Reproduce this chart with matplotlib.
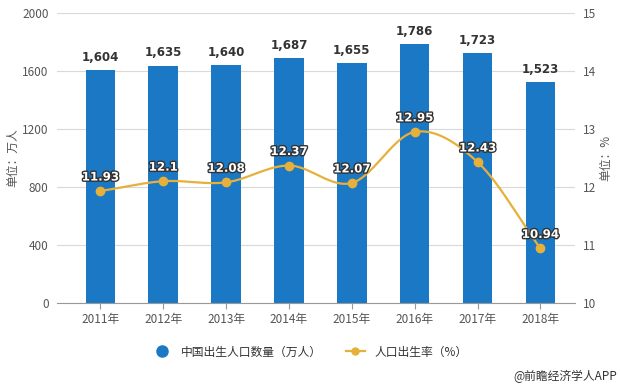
import numpy as np
import matplotlib
matplotlib.use("Agg")
import matplotlib.pyplot as plt
import matplotlib.patheffects as pe
from matplotlib.lines import Line2D

plt.rcParams['font.family'] = ['Noto Sans CJK SC', 'DejaVu Sans']

years = ["2011年", "2012年", "2013年", "2014年", "2015年", "2016年", "2017年", "2018年"]
births = [1604, 1635, 1640, 1687, 1655, 1786, 1723, 1523]
rates = [11.93, 12.1, 12.08, 12.37, 12.07, 12.95, 12.43, 10.94]
rate_labels = ["11.93", "12.1", "12.08", "12.37", "12.07", "12.95", "12.43", "10.94"]

BLUE = "#1a78c4"
GOLD = "#e6b03a"
GRAY = "#555555"


def catmull_rom(x, y, n=30):
    x = np.asarray(x, float)
    y = np.asarray(y, float)
    px = np.concatenate([[2 * x[0] - x[1]], x, [2 * x[-1] - x[-2]]])
    py = np.concatenate([[2 * y[0] - y[1]], y, [2 * y[-1] - y[-2]]])
    xs, ys = [], []
    t = np.linspace(0, 1, n)
    for i in range(1, len(px) - 2):
        for p, out in ((px, xs), (py, ys)):
            p0, p1, p2, p3 = p[i - 1], p[i], p[i + 1], p[i + 2]
            out.append(0.5 * (2 * p1 + (-p0 + p2) * t
                              + (2 * p0 - 5 * p1 + 4 * p2 - p3) * t ** 2
                              + (-p0 + 3 * p1 - 3 * p2 + p3) * t ** 3))
    return np.concatenate(xs), np.concatenate(ys)


fig = plt.figure(figsize=(6.2, 3.86), dpi=100)
ax = fig.add_axes([57 / 620, 1 - 303 / 386, (575 - 57) / 620, (303 - 13) / 386])
ax2 = ax.twinx()

x = np.arange(len(years))
ax.bar(x, births, width=0.47, color=BLUE, zorder=2)
for xi, v in zip(x, births):
    ax.text(xi, v + 45, f"{v:,}", ha="center", va="bottom", fontsize=8.5,
            fontweight="bold", color="#333333", family=["DejaVu Sans"])

ax.set_ylim(0, 2000)
ax.set_yticks([0, 400, 800, 1200, 1600, 2000])
ax.set_xlim(-0.69, 7.55)
ax.set_xticks(x)
ax.set_xticklabels(years)
ax.yaxis.grid(True, color="#d9d9d9", linewidth=0.8, zorder=0)
ax.set_axisbelow(True)
for s in ["top", "right", "left"]:
    ax.spines[s].set_visible(False)
ax.spines["bottom"].set_color("#999999")
ax.tick_params(axis="y", length=0, labelsize=8.5, labelcolor=GRAY, pad=6)
ax.tick_params(axis="x", length=4, color="#999999", labelsize=8.5, labelcolor=GRAY)
ax.set_ylabel("单位：万人", fontsize=8.5, color=GRAY, labelpad=2)

sx, sy = catmull_rom(x, rates)
ax2.plot(sx, sy, color=GOLD, linewidth=1.6, zorder=3)
ax2.plot(x, rates, "o", color=GOLD, markersize=6, zorder=4)
for xi, v, lab in zip(x, rates, rate_labels):
    ax2.text(xi, v + 0.13, lab, ha="center", va="bottom", fontsize=8.5,
             fontweight="bold", color="white", family=["DejaVu Sans"],
             path_effects=[pe.withStroke(linewidth=2, foreground="#333333")], zorder=5)
ax2.set_ylim(10, 15)
ax2.set_yticks([10, 11, 12, 13, 14, 15])
for s in ["top", "right", "left", "bottom"]:
    ax2.spines[s].set_visible(False)
ax2.tick_params(axis="y", length=0, labelsize=8.5, labelcolor=GRAY, pad=6)
ax2.set_ylabel("单位：%", fontsize=8.5, color=GRAY, rotation=90, labelpad=2)

handles = [
    Line2D([], [], marker="o", linestyle="none", color=BLUE, markersize=8),
    Line2D([], [], marker="o", color=GOLD, markersize=5, linewidth=1.6),
]
fig.legend(handles, ["中国出生人口数量（万人）", "人口出生率（%）"], loc="center",
           bbox_to_anchor=(0.5, 1 - 352 / 386), ncol=2, frameon=False,
           fontsize=8.5, handlelength=1.6, columnspacing=2.0,
           labelcolor="#333333")
fig.text(0.995, 1 - 376 / 386, "@前瞻经济学人APP", ha="right", va="center",
         fontsize=8.5, color="#333333")

fig.savefig("out.png", dpi=100)
